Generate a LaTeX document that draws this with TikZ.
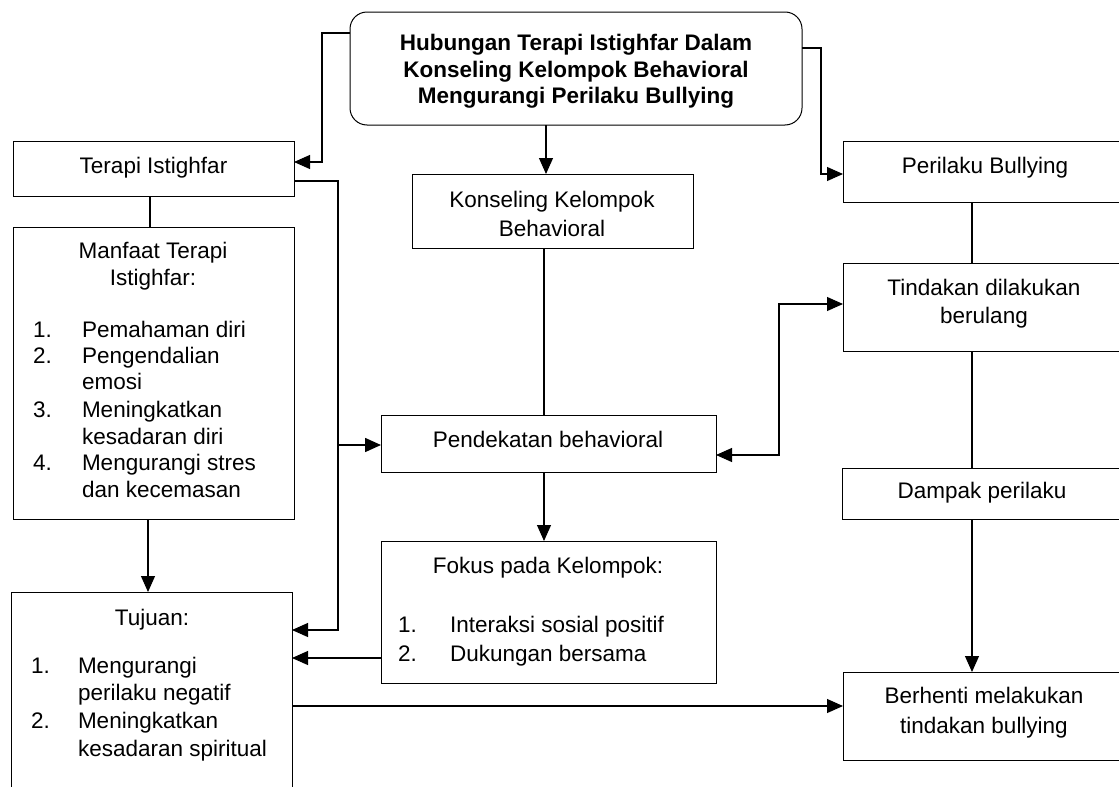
\documentclass[tikz,border=0pt]{standalone}
\usepackage{fontspec}
\setmainfont{Liberation Sans}
\usetikzlibrary{arrows.meta}
\begin{document}
\begin{tikzpicture}[x=1pt,y=-1pt,
  box/.style={draw=black, line width=1pt, rectangle, inner sep=0pt, outer sep=0pt, anchor=north west},
  txt/.style={inner sep=0pt, outer sep=0pt, font=\fontsize{22.5}{27}\selectfont},
  ttl/.style={txt, font=\fontsize{22.5}{27}\selectfont\bfseries},
  ln/.style={draw=black, line width=1.1pt},
  arr/.style={ln, -{Triangle[length=16pt,width=14pt]}},
  arrb/.style={ln, {Triangle[length=16pt,width=14pt]}-{Triangle[length=16pt,width=14pt]}}]
\useasboundingbox (0,0) rectangle (1119,787);
\clip (0,0) rectangle (1119,787);
\fill[white] (0,0) rectangle (1119,787);

% boxes
\node[box, rounded corners=17pt, minimum width=452pt, minimum height=113pt] (title) at (350,12) {};
\node[box, minimum width=281pt, minimum height=55pt] (terapi) at (13,141) {};
\node[box, minimum width=281pt, minimum height=292pt] (manfaat) at (13,227) {};
\node[box, minimum width=281pt, minimum height=220pt] (tujuan) at (11,592) {};
\node[box, minimum width=281pt, minimum height=74pt] (konseling) at (412,174) {};
\node[box, minimum width=335pt, minimum height=57pt] (pendekatan) at (381,415) {};
\node[box, minimum width=335pt, minimum height=142pt] (fokus) at (381,541) {};
\node[box, minimum width=282pt, minimum height=61pt] (perilaku) at (843,141) {};
\node[box, minimum width=282pt, minimum height=88pt] (tindakan) at (843,263) {};
\node[box, minimum width=283pt, minimum height=51pt] (dampak) at (842,468) {};
\node[box, minimum width=282pt, minimum height=88pt] (berhenti) at (843,672) {};

% texts
\node[ttl, anchor=base] (t1) at (576,50) {Hubungan Terapi Istighfar Dalam};
\node[ttl, anchor=base] (t2) at (576,77) {Konseling Kelompok Behavioral};
\node[ttl, anchor=base] (t3) at (576,103) {Mengurangi Perilaku Bullying};

\node[txt, anchor=base] (tt) at (153.5,173) {Terapi Istighfar};

\node[txt, anchor=base] (m0) at (153,258) {Manfaat Terapi};
\node[txt, anchor=base] (m00) at (153,285) {Istighfar:};
\node[txt, anchor=base west] (mn1) at (33,337) {1.};
\node[txt, anchor=base west] (mt1) at (82,337) {Pemahaman diri};
\node[txt, anchor=base west] (mn2) at (33,363) {2.};
\node[txt, anchor=base west] (mt2) at (82,363) {Pengendalian};
\node[txt, anchor=base west] (mt2b) at (82,389) {emosi};
\node[txt, anchor=base west] (mn3) at (33,417) {3.};
\node[txt, anchor=base west] (mt3) at (82,417) {Meningkatkan};
\node[txt, anchor=base west] (mt3b) at (82,444) {kesadaran diri};
\node[txt, anchor=base west] (mn4) at (33,470) {4.};
\node[txt, anchor=base west] (mt4) at (82,470) {Mengurangi stres};
\node[txt, anchor=base west] (mt4b) at (82,497) {dan kecemasan};

\node[txt, anchor=base] (tj0) at (152,625) {Tujuan:};
\node[txt, anchor=base west] (jn1) at (31,673) {1.};
\node[txt, anchor=base west] (jt1) at (78,673) {Mengurangi};
\node[txt, anchor=base west] (jt1b) at (78,700) {perilaku negatif};
\node[txt, anchor=base west] (jn2) at (31,728) {2.};
\node[txt, anchor=base west] (jt2) at (78,728) {Meningkatkan};
\node[txt, anchor=base west] (jt2b) at (78,756) {kesadaran spiritual};

\node[txt, anchor=base] (k1) at (552,207) {Konseling Kelompok};
\node[txt, anchor=base] (k2) at (552,236) {Behavioral};

\node[txt, anchor=base] (p1) at (548,447) {Pendekatan behavioral};

\node[txt, anchor=base] (f0) at (548,573) {Fokus pada Kelompok:};
\node[txt, anchor=base west] (fn1) at (398,632) {1.};
\node[txt, anchor=base west] (ft1) at (450,632) {Interaksi sosial positif};
\node[txt, anchor=base west] (fn2) at (398,661) {2.};
\node[txt, anchor=base west] (ft2) at (450,661) {Dukungan bersama};

\node[txt, anchor=base] (r1) at (985,173) {Perilaku Bullying};
\node[txt, anchor=base] (r2) at (984,295) {Tindakan dilakukan};
\node[txt, anchor=base] (r2b) at (984,323) {berulang};
\node[txt, anchor=base] (r3) at (982,498) {Dampak perilaku};
\node[txt, anchor=base] (r4) at (984,703) {Berhenti melakukan};
\node[txt, anchor=base] (r4b) at (984,733) {tindakan bullying};

% helper coordinates
\coordinate (a1) at (322,33);
\coordinate (a2) at (322,162);
\coordinate (b1) at (821,48);
\coordinate (b2) at (821,174);
\coordinate (cx) at (546,0);
\coordinate (cy) at (544,0);
\coordinate (c150) at (150,0);
\coordinate (c148) at (148,0);
\coordinate (d1) at (338,181);
\coordinate (d2) at (338,630);
\coordinate (d3) at (338,445);
\coordinate (e1) at (779,455);
\coordinate (e2) at (779,304);
\coordinate (g1) at (0,658);
\coordinate (h1) at (0,706);
\coordinate (rx) at (972,0);

% connectors
\draw[arr] (title.west |- a1) -- (a1) -- (a2) -- (terapi.east |- a2);
\draw[arr] (title.south -| cx) -- (konseling.north -| cx);
\draw[arr] (title.east |- b1) -- (b1) -- (b2) -- (perilaku.west |- b2);
\draw[ln] (terapi.south -| c150) -- (manfaat.north -| c150);
\draw[arr] (manfaat.south -| c148) -- (tujuan.north -| c148);
\draw[arr] (terapi.east |- d1) -- (d1) -- (d2) -- (tujuan.east |- d2);
\draw[arr, line width=1.6pt] (d3) -- (pendekatan.west |- d3);
\draw[ln] (konseling.south -| cy) -- (pendekatan.north -| cy);
\draw[arr] (pendekatan.south -| cy) -- (fokus.north -| cy);
\draw[arr] (fokus.west |- g1) -- (tujuan.east |- g1);
\draw[arrb] (pendekatan.east |- e1) -- (e1) -- (e2) -- (tindakan.west |- e2);
\draw[ln] (perilaku.south -| rx) -- (tindakan.north -| rx);
\draw[ln] (tindakan.south -| rx) -- (dampak.north -| rx);
\draw[arr] (dampak.south -| rx) -- (berhenti.north -| rx);
\draw[arr] (tujuan.east |- h1) -- (berhenti.west |- h1);
\end{tikzpicture}
\end{document}
